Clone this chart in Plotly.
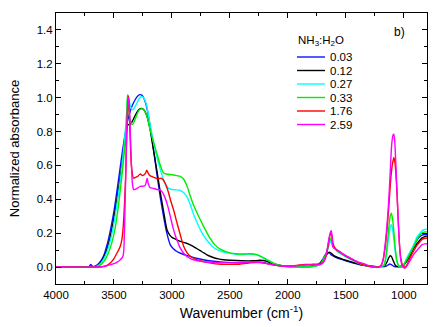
import plotly.graph_objects as go

# ---------------- data ----------------
labels = ["0.03", "0.12", "0.27", "0.33", "1.76", "2.59"]
colors = ["#1010ff", "#000000", "#00ffff", "#00ee00", "#ff0000", "#ff00ff"]

wn_003 = [4000, 3730, 3712, 3700, 3688, 3670, 3650, 3620, 3590, 3560, 3530, 3500, 3470, 3440, 3410, 3380,
          3350, 3320, 3295, 3278, 3260, 3235, 3210, 3188, 3160, 3130, 3100, 3070, 3044, 3014, 2990, 2957,
          2920, 2880, 2842, 2790, 2720, 2640, 2560, 2480, 2400, 2300, 2240, 2180, 2120, 2060, 2000, 1900, 1800,
          1760, 1734, 1700, 1680, 1662, 1645, 1625, 1600, 1576, 1550, 1500, 1450, 1400, 1350, 1300, 1250,
          1200, 1150, 1135, 1121, 1108, 1090, 1070, 1040, 1010, 990, 970, 942, 915, 885, 860, 842, 820, 800]
ab_003 = [0, 0, 0.005, 0.015, 0.006, 0.004, 0.01, 0.03, 0.065, 0.13, 0.22, 0.33, 0.47, 0.62, 0.76, 0.87,
          0.94, 0.985, 1.01, 1.018, 1.015, 0.985, 0.92, 0.83, 0.7, 0.55, 0.41, 0.29, 0.2, 0.131, 0.11, 0.092,
          0.08, 0.07, 0.063, 0.052, 0.042, 0.034, 0.029, 0.026, 0.025, 0.027, 0.028, 0.022, 0.014, 0.007, 0.003, 0.002, 0.004,
          0.008, 0.015, 0.045, 0.07, 0.085, 0.085, 0.072, 0.062, 0.055, 0.048, 0.037, 0.027, 0.018, 0.01, 0.005, 0.002,
          0.002, 0.006, 0.013, 0.018, 0.015, 0.006, 0.002, 0.003, 0.008, 0.025, 0.05, 0.09, 0.125, 0.16, 0.18, 0.188, 0.192, 0.192]

wn_012 = [4000, 3700, 3680, 3650, 3620, 3590, 3560, 3530, 3500, 3470, 3440, 3410, 3395, 3385, 3370, 3355,
          3335, 3310, 3285, 3265, 3245, 3220, 3190, 3159, 3130, 3100, 3070, 3043, 3020, 3000, 2957, 2920,
          2880, 2842, 2800, 2760, 2720, 2698, 2650, 2600, 2554, 2500, 2400, 2300, 2238, 2190, 2151, 2100,
          2050, 2000, 1900, 1800, 1750, 1710, 1680, 1660, 1639, 1620, 1600, 1576, 1550, 1500, 1450, 1400,
          1350, 1300, 1250, 1200, 1165, 1145, 1130, 1118, 1105, 1090, 1075, 1060, 1030, 1005, 990, 970,
          942, 915, 885, 860, 842, 820, 800]
ab_012 = [0, 0, 0.0, 0.006, 0.022, 0.055, 0.105, 0.185, 0.29, 0.42, 0.56, 0.71, 0.78, 0.835, 0.842, 0.845,
          0.87, 0.905, 0.93, 0.937, 0.93, 0.9, 0.82, 0.69, 0.57, 0.44, 0.32, 0.22, 0.19, 0.175, 0.161, 0.15,
          0.142, 0.131, 0.115, 0.098, 0.082, 0.072, 0.058, 0.048, 0.043, 0.04, 0.037, 0.037, 0.04, 0.036, 0.026, 0.016,
          0.008, 0.004, 0.003, 0.005, 0.01, 0.03, 0.058, 0.078, 0.088, 0.078, 0.066, 0.058, 0.052, 0.04, 0.03, 0.02,
          0.012, 0.006, 0.003, 0.004, 0.008, 0.03, 0.055, 0.067, 0.06, 0.035, 0.012, 0.004, 0.002, 0.006, 0.02, 0.04,
          0.075, 0.11, 0.14, 0.16, 0.172, 0.18, 0.183]

wn_027 = [4000, 3680, 3650, 3620, 3590, 3560, 3530, 3500, 3470, 3440, 3415, 3398, 3386, 3378, 3365, 3350,
          3335, 3315, 3290, 3265, 3245, 3220, 3188, 3160, 3130, 3102, 3075, 3050, 3029, 3000, 2960, 2928,
          2900, 2870, 2842, 2813, 2775, 2740, 2700, 2660, 2625, 2570, 2497, 2450, 2400, 2350, 2324, 2280,
          2230, 2180, 2130, 2065, 2000, 1900, 1800, 1750, 1715, 1690, 1665, 1645, 1630, 1618, 1600, 1576,
          1550, 1500, 1460, 1400, 1345, 1300, 1259, 1215, 1173, 1160, 1145, 1130, 1118, 1109, 1098, 1085,
          1072, 1060, 1045, 1030, 1005, 990, 970, 942, 915, 885, 860, 842, 820, 800]
ab_027 = [0, 0, 0.004, 0.018, 0.045, 0.09, 0.16, 0.26, 0.39, 0.54, 0.7, 0.84, 0.96, 1.015, 0.97, 0.935,
          0.93, 0.95, 0.985, 1.007, 1.0, 0.96, 0.84, 0.74, 0.65, 0.58, 0.52, 0.48, 0.465, 0.458, 0.456, 0.452,
          0.44, 0.415, 0.37, 0.31, 0.25, 0.2, 0.16, 0.128, 0.108, 0.092, 0.081, 0.076, 0.074, 0.076, 0.077, 0.074,
          0.062, 0.042, 0.025, 0.008, 0.002, 0.0, 0.002, 0.008, 0.02, 0.045, 0.085, 0.13, 0.155, 0.13, 0.11, 0.092,
          0.08, 0.06, 0.045, 0.025, 0.012, 0.004, 0.0, 0.002, 0.008, 0.03, 0.095, 0.18, 0.235, 0.25, 0.228, 0.157,
          0.079, 0.031, 0.008, 0.0, 0.008, 0.03, 0.06, 0.092, 0.13, 0.18, 0.2, 0.215, 0.222, 0.224]

wn_033 = [4000, 3670, 3640, 3610, 3580, 3550, 3520, 3490, 3460, 3430, 3405, 3392, 3384, 3376, 3362, 3348,
          3338, 3325, 3305, 3285, 3262, 3240, 3215, 3188, 3160, 3130, 3100, 3072, 3040, 3000, 2960, 2928,
          2900, 2870, 2842, 2810, 2770, 2727, 2680, 2625, 2580, 2530, 2497, 2450, 2400, 2350, 2324, 2280,
          2230, 2180, 2130, 2065, 2000, 1900, 1800, 1750, 1715, 1690, 1665, 1645, 1630, 1618, 1600, 1576,
          1550, 1500, 1460, 1400, 1345, 1300, 1259, 1215, 1173, 1160, 1145, 1130, 1118, 1109, 1098, 1085,
          1072, 1060, 1045, 1030, 1005, 990, 970, 942, 915, 885, 860, 842, 820, 800]
ab_033 = [0, 0, 0.004, 0.016, 0.04, 0.08, 0.14, 0.23, 0.37, 0.55, 0.72, 0.86, 1.017, 0.96, 0.87, 0.845,
          0.842, 0.86, 0.895, 0.925, 0.935, 0.925, 0.89, 0.81, 0.74, 0.67, 0.6, 0.555, 0.548, 0.545, 0.54, 0.535,
          0.52, 0.478, 0.42, 0.36, 0.3, 0.24, 0.18, 0.128, 0.104, 0.09, 0.084, 0.079, 0.077, 0.078, 0.079, 0.075,
          0.062, 0.043, 0.025, 0.008, 0.002, 0.0, 0.002, 0.008, 0.022, 0.05, 0.09, 0.145, 0.17, 0.14, 0.118, 0.097,
          0.085, 0.065, 0.05, 0.028, 0.013, 0.005, 0.0, 0.002, 0.01, 0.04, 0.12, 0.23, 0.3, 0.318, 0.29, 0.2,
          0.1, 0.04, 0.01, 0.0, 0.008, 0.025, 0.05, 0.085, 0.12, 0.165, 0.19, 0.202, 0.207, 0.208]

wn_176 = [4000, 3640, 3610, 3591, 3560, 3530, 3500, 3476, 3447, 3430, 3418, 3410, 3400, 3392, 3384, 3377,
          3370, 3362, 3350, 3332, 3315, 3295, 3274, 3255, 3240, 3228, 3217, 3205, 3190, 3174, 3150, 3130,
          3115, 3100, 3080, 3055, 3030, 3010, 2986, 2960, 2940, 2920, 2900, 2870, 2840, 2784, 2740, 2700,
          2650, 2600, 2550, 2500, 2420, 2360, 2324, 2280, 2238, 2190, 2151, 2100, 2050, 2000, 1950, 1900,
          1850, 1800, 1750, 1720, 1700, 1680, 1662, 1648, 1638, 1630, 1620, 1610, 1600, 1576, 1550, 1500,
          1460, 1400, 1345, 1300, 1259, 1225, 1201, 1180, 1160, 1145, 1130, 1115, 1100, 1086, 1075, 1062,
          1050, 1038, 1025, 1010, 995, 980, 965, 942, 915, 885, 860, 842, 820, 800]
ab_176 = [0, 0, 0.002, 0.004, 0.01, 0.025, 0.05, 0.08, 0.12, 0.17, 0.26, 0.36, 0.52, 0.72, 0.9, 1.01,
          0.97, 0.8, 0.6, 0.525, 0.53, 0.535, 0.55, 0.54, 0.545, 0.555, 0.572, 0.555, 0.54, 0.535, 0.528, 0.522,
          0.52, 0.525, 0.518, 0.49, 0.44, 0.39, 0.338, 0.27, 0.22, 0.17, 0.125, 0.085, 0.062, 0.043, 0.034, 0.028,
          0.022, 0.018, 0.016, 0.016, 0.017, 0.022, 0.026, 0.028, 0.027, 0.022, 0.016, 0.01, 0.006, 0.005, 0.008, 0.012,
          0.015, 0.016, 0.017, 0.02, 0.025, 0.045, 0.09, 0.15, 0.185, 0.2, 0.185, 0.14, 0.12, 0.1, 0.088, 0.065,
          0.05, 0.028, 0.013, 0.005, 0.0, 0.0, 0.005, 0.035, 0.12, 0.22, 0.35, 0.5, 0.6, 0.647, 0.61, 0.48,
          0.3, 0.14, 0.05, 0.01, 0.0, 0.005, 0.025, 0.06, 0.095, 0.13, 0.15, 0.163, 0.17, 0.172]

wn_259 = [4000, 3640, 3600, 3560, 3530, 3500, 3476, 3447, 3430, 3422, 3415, 3408, 3400, 3392, 3384, 3377,
          3370, 3362, 3352, 3342, 3332, 3326, 3300, 3274, 3245, 3231, 3222, 3214, 3205, 3190, 3160, 3130,
          3116, 3100, 3080, 3060, 3040, 3014, 2990, 2970, 2957, 2930, 2900, 2870, 2840, 2813, 2760, 2700,
          2600, 2500, 2420, 2360, 2324, 2280, 2238, 2190, 2151, 2100, 2050, 2000, 1950, 1892, 1850, 1800,
          1748, 1720, 1705, 1691, 1675, 1662, 1650, 1639, 1627, 1620, 1613, 1600, 1576, 1550, 1500, 1460,
          1400, 1345, 1300, 1259, 1225, 1201, 1180, 1160, 1145, 1132, 1118, 1105, 1093, 1086, 1078, 1068,
          1054, 1040, 1028, 1015, 1000, 985, 970, 942, 915, 885, 860, 842, 820, 800]
ab_259 = [0, 0, 0.002, 0.008, 0.014, 0.02, 0.028, 0.042, 0.055, 0.065, 0.1, 0.25, 0.5, 0.75, 0.93, 1.0,
          0.98, 0.85, 0.65, 0.5, 0.46, 0.456, 0.465, 0.476, 0.478, 0.482, 0.5, 0.525, 0.495, 0.47, 0.465, 0.458,
          0.458, 0.455, 0.44, 0.41, 0.37, 0.3, 0.23, 0.185, 0.16, 0.115, 0.083, 0.062, 0.05, 0.043, 0.035, 0.03,
          0.026, 0.025, 0.026, 0.028, 0.03, 0.03, 0.028, 0.022, 0.016, 0.01, 0.006, 0.004, 0.006, 0.01, 0.012, 0.013,
          0.013, 0.015, 0.02, 0.03, 0.06, 0.1, 0.15, 0.19, 0.216, 0.19, 0.122, 0.11, 0.102, 0.09, 0.068, 0.053,
          0.032, 0.02, 0.008, 0.0, -0.002, 0.005, 0.04, 0.14, 0.25, 0.37, 0.55, 0.72, 0.78, 0.785, 0.74, 0.6,
          0.37, 0.16, 0.05, 0.01, -0.005, -0.005, 0.01, 0.043, 0.075, 0.1, 0.12, 0.132, 0.137, 0.138]

wavenumbers = [wn_003, wn_012, wn_027, wn_033, wn_176, wn_259]
absorbances = [ab_003, ab_012, ab_027, ab_033, ab_176, ab_259]

x_ticks = [4000, 3500, 3000, 2500, 2000, 1500, 1000]
y_ticks = [0.0, 0.2, 0.4, 0.6, 0.8, 1.0, 1.2, 1.4]

legend_title = "NH<sub>3</sub>:H<sub>2</sub>O"
panel_label = "b)"

# ---------------- figure ----------------
FONT = "Liberation Sans, Arial, Helvetica, sans-serif"
fig = go.Figure()
for wn, ab, lab, col in zip(wavenumbers, absorbances, labels, colors):
    fig.add_trace(go.Scatter(x=wn, y=ab, mode="lines", name=lab,
                             line=dict(color=col, width=1.4, shape="spline", smoothing=0.5),
                             showlegend=False))

# manual legend (compact spacing like the reference)
L, R, T, B = 56, 9, 13, 43
W, H = 436, 327
pw, ph = W - L - R, H - T - B

def px_x(p):
    return (p - L) / pw

def px_y(p):
    return 1 - (p - T) / ph

shapes = []
annotations = [
    dict(text=legend_title, x=px_x(296), y=px_y(41), xref="paper", yref="paper",
         xanchor="left", yanchor="middle", showarrow=False, font=dict(size=11.5, color="black", family=FONT)),
    dict(text=panel_label, x=px_x(399), y=px_y(32), xref="paper", yref="paper",
         xanchor="center", yanchor="middle", showarrow=False, font=dict(size=12, color="black", family=FONT)),
]
for i, (lab, col) in enumerate(zip(labels, colors)):
    yy = 57 + i * 13.5
    shapes.append(dict(type="line", xref="paper", yref="paper", x0=px_x(297), x1=px_x(325),
                       y0=px_y(yy), y1=px_y(yy), line=dict(color=col, width=1.4)))
    annotations.append(dict(text=lab, x=px_x(328), y=px_y(yy), xref="paper", yref="paper",
                            xanchor="left", yanchor="middle", showarrow=False,
                            font=dict(size=11.5, color="black", family=FONT)))

axis_common = dict(showline=True, linecolor="black", linewidth=1, mirror="ticks",
                   ticks="inside", ticklen=5, tickwidth=1, tickcolor="black",
                   showgrid=False, zeroline=False,
                   tickfont=dict(size=11.5, color="black", family=FONT))

fig.update_layout(
    width=W, height=H,
    margin=dict(l=L, r=R, t=T, b=B, autoexpand=False),
    paper_bgcolor="white", plot_bgcolor="white",
    shapes=shapes, annotations=annotations,
    xaxis=dict(range=[4000, 800], tickvals=x_ticks,
               minor=dict(ticks="inside", ticklen=3, dtick=250, tick0=0, tickcolor="black"),
               title=dict(text="Wavenumber (cm<sup>-1</sup>)", font=dict(size=14, color="black", family=FONT), standoff=8),
               **axis_common),
    yaxis=dict(range=[-0.1, 1.5], tickvals=y_ticks, tickformat=".1f",
               minor=dict(ticks="inside", ticklen=3, dtick=0.1, tick0=0, tickcolor="black"),
               title=dict(text="Normalized absorbance", font=dict(size=13, color="black", family=FONT), standoff=14),
               **axis_common),
)

fig.write_html("out.html", config={"displayModeBar": False},
               post_script="document.body.style.margin='0px';document.body.style.padding='0px';")
